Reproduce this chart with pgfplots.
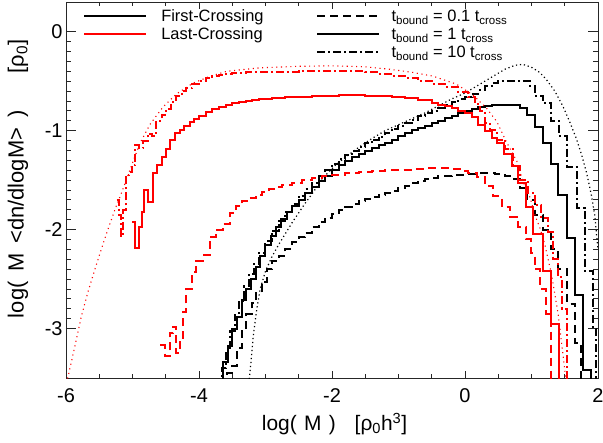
\documentclass[border=0pt]{standalone}
\usepackage{fontspec}
\setmainfont{Liberation Sans}
\usepackage{pgfplots}
\pgfplotsset{compat=1.18}
\definecolor{idlred}{RGB}{255,0,0}
\tikzset{
 dashB/.style={dash pattern=on 8bp off 5bp},
 dashdotB/.style={dash pattern=on 8bp off 3bp on 2bp off 3bp},
 dotB/.style={dash pattern=on 1.2bp off 2.8bp},
 dotR/.style={dash pattern=on 1.1bp off 3.6bp},
}
\newcommand{\sps}[1]{\hspace{#1em}}
\begin{document}
\begin{tikzpicture}
\path[use as bounding box] (-66bp,-65bp) rectangle (537bp,378bp);
\begin{axis}[
  scale only axis, width=532bp, height=376bp,
  xmin=-6, xmax=2, ymin=-3.5, ymax=0.3,
  xtick={-6,-4,-2,0,2}, xticklabels={-6,-4,-2,0,2},
  ytick={-3,-2,-1,0}, yticklabels={-3,-2,-1,0},
  minor x tick num=3, minor y tick num=9,
  tick align=inside,
  axis line style={line width=0.9bp, black!85},
  every tick/.style={black!85, line width=0.8bp},
  xtick style={/pgfplots/major tick length=7bp, /pgfplots/minor tick length=4.5bp},
  ytick style={/pgfplots/major tick length=10bp, /pgfplots/minor tick length=5bp},
  tick label style={font=\fontsize{20}{24}\selectfont},
  xticklabel shift=7bp,
  xlabel={log(\sps{0.35}M\sps{0.35})\sps{0.9}[ρ\textsubscript{0}h\textsuperscript{3}]},
  ylabel={log(\sps{0.45}M\sps{0.45}{<}dn/dlogM{>}\sps{0.45})\sps{1.7}[ρ\textsubscript{0}]},
  every axis x label/.style={at={(rel axis cs:0.368,0)}, yshift=-46bp, anchor=west, inner sep=0pt, font=\fontsize{21}{25}\selectfont},
  every axis y label/.style={at={(rel axis cs:0,0.159)}, xshift=-48bp, rotate=90, anchor=west, inner sep=0pt, font=\fontsize{22}{26}\selectfont},
  legend columns=2,
  legend cell align=left,
  legend image code/.code={\draw[#1] (0bp,0bp) -- (62bp,0bp);},
  legend style={draw=none, fill=none, at={(rel axis cs:0,1)}, anchor=north west,
    xshift=17bp, yshift=-5.5bp, inner sep=0pt, outer sep=0pt, row sep=1.2bp, column sep=0pt,
    font=\fontsize{16.5}{18}\selectfont,
    nodes={inner sep=0pt, text height=14.2bp, text depth=2.6bp},
    /tikz/column 1/.style={column sep=14bp},
    /tikz/column 2/.style={nodes={text width=155bp}},
    /tikz/column 3/.style={column sep=11bp}},
]
% legend images
\addlegendimage{black, line width=2.3bp}
\addlegendentry{First-Crossing}
\addlegendimage{black, line width=2.3bp, dashB}
\addlegendentry{t\textsubscript{bound} = 0.1 t\textsubscript{cross}}
\addlegendimage{idlred, line width=2.3bp}
\addlegendentry{Last-Crossing}
\addlegendimage{black, line width=2.3bp}
\addlegendentry{t\textsubscript{bound} = 1 t\textsubscript{cross}}
\addlegendimage{empty legend}
\addlegendentry{\mbox{}}
\addlegendimage{black, line width=2.3bp, dashdotB}
\addlegendentry{t\textsubscript{bound} = 10 t\textsubscript{cross}}

% ---------- First crossing (black) ----------
% dotted (theory)
\addplot[forget plot, black, line width=1.2bp, dotB] coordinates {
(-3.25,-3.55) (-3.22,-3.35) (-3.18,-3.05) (-3.13,-2.80) (-3.08,-2.60) (-3.00,-2.42)
(-2.90,-2.27) (-2.80,-2.15) (-2.70,-2.04) (-2.60,-1.93) (-2.50,-1.83) (-2.40,-1.73)
(-2.30,-1.64) (-2.20,-1.54) (-2.08,-1.44) (-1.95,-1.35) (-1.78,-1.26) (-1.60,-1.17)
(-1.40,-1.08) (-1.20,-1.00) (-1.00,-0.94) (-0.80,-0.88) (-0.60,-0.82) (-0.40,-0.75)
(-0.20,-0.68) (0.00,-0.62) (0.20,-0.54) (0.40,-0.46) (0.60,-0.38) (0.75,-0.34)
(0.87,-0.33) (1.00,-0.36) (1.12,-0.41) (1.22,-0.48) (1.35,-0.60) (1.47,-0.75)
(1.58,-0.92) (1.68,-1.09) (1.76,-1.26) (1.83,-1.43) (1.90,-1.65) (1.95,-1.85) (2.00,-2.2)
};
% dashed  t=0.1
\addplot[forget plot, black, line width=2bp, dashB, const plot] coordinates {
(-3.58,-3.6) (-3.58,-3.45) (-3.50,-3.38) (-3.43,-3.20) (-3.36,-3.02) (-3.29,-2.85)
(-3.21,-2.74) (-3.14,-2.64) (-3.06,-2.53) (-2.98,-2.40) (-2.90,-2.32) (-2.80,-2.27)
(-2.70,-2.20) (-2.60,-2.13) (-2.50,-2.08) (-2.40,-2.03) (-2.30,-1.97) (-2.20,-1.92)
(-2.10,-1.88) (-2.00,-1.84) (-1.90,-1.80) (-1.80,-1.77) (-1.70,-1.74) (-1.60,-1.71)
(-1.50,-1.69) (-1.40,-1.67) (-1.30,-1.65) (-1.20,-1.63) (-1.10,-1.61) (-1.00,-1.58)
(-0.90,-1.56) (-0.80,-1.53) (-0.70,-1.51) (-0.60,-1.49) (-0.50,-1.48) (-0.40,-1.46)
(-0.30,-1.46) (-0.20,-1.45) (-0.10,-1.45) (0.00,-1.44) (0.10,-1.44) (0.20,-1.43)
(0.30,-1.43) (0.45,-1.44) (0.60,-1.46) (0.72,-1.49) (0.82,-1.58) (0.93,-1.70)
(1.05,-1.85) (1.18,-2.00) (1.30,-2.20) (1.40,-2.40) (1.54,-2.75) (1.66,-3.15) (1.75,-3.6)
};
% solid t=1
\addplot[forget plot, black, line width=2bp, const plot] coordinates {
(-3.64,-3.6) (-3.64,-3.34) (-3.56,-3.18) (-3.50,-3.00) (-3.43,-2.88) (-3.36,-2.71)
(-3.30,-2.60) (-3.22,-2.50) (-3.15,-2.38) (-3.08,-2.27) (-3.00,-2.16) (-2.92,-2.06)
(-2.84,-1.97) (-2.76,-1.89) (-2.68,-1.82) (-2.60,-1.76) (-2.50,-1.70) (-2.40,-1.63)
(-2.30,-1.57) (-2.20,-1.51) (-2.10,-1.46) (-2.00,-1.40) (-1.90,-1.35) (-1.80,-1.31)
(-1.70,-1.27) (-1.60,-1.24) (-1.50,-1.21) (-1.40,-1.18) (-1.30,-1.15) (-1.20,-1.12)
(-1.10,-1.09) (-1.00,-1.05) (-0.90,-1.02) (-0.80,-0.99) (-0.70,-0.97) (-0.60,-0.95)
(-0.50,-0.92) (-0.40,-0.90) (-0.30,-0.87) (-0.20,-0.85) (-0.10,-0.82) (0.00,-0.80)
(0.10,-0.78) (0.20,-0.76) (0.30,-0.75) (0.40,-0.74) (0.82,-0.77) (0.93,-0.84)
(1.05,-0.96) (1.18,-1.12) (1.30,-1.34) (1.40,-1.65) (1.54,-2.09) (1.66,-2.66)
(1.78,-3.42) (1.89,-3.6)
};
% dash-dot t=10
\addplot[forget plot, black, line width=2bp, dashdotB, const plot] coordinates {
(-3.66,-3.6) (-3.66,-3.40) (-3.60,-3.22) (-3.53,-3.02) (-3.46,-2.86) (-3.40,-2.72)
(-3.32,-2.57) (-3.25,-2.45) (-3.18,-2.35) (-3.10,-2.24) (-3.00,-2.12) (-2.90,-2.01)
(-2.80,-1.91) (-2.70,-1.82) (-2.60,-1.74) (-2.50,-1.66) (-2.40,-1.59) (-2.30,-1.53)
(-2.20,-1.46) (-2.10,-1.40) (-2.00,-1.34) (-1.90,-1.29) (-1.80,-1.25) (-1.70,-1.21)
(-1.60,-1.17) (-1.50,-1.13) (-1.40,-1.09) (-1.30,-1.06) (-1.20,-1.02) (-1.10,-0.98)
(-1.00,-0.95) (-0.90,-0.92) (-0.80,-0.89) (-0.70,-0.85) (-0.60,-0.82) (-0.50,-0.80)
(-0.40,-0.77) (-0.30,-0.74) (-0.20,-0.71) (-0.10,-0.68) (0.00,-0.66) (0.10,-0.63)
(0.20,-0.59) (0.30,-0.55) (0.40,-0.52) (0.50,-0.50) (0.98,-0.55) (1.05,-0.65)
(1.18,-0.72) (1.30,-0.90) (1.42,-1.05) (1.54,-1.37) (1.68,-1.78) (1.80,-2.42)
(1.92,-3.0) (1.97,-3.6)
};

% ---------- Last crossing (red) ----------
% dotted (theory)
\addplot[forget plot, idlred, line width=1.1bp, dotR] coordinates {
(-6.00,-3.55) (-5.97,-3.49) (-5.87,-3.19) (-5.77,-2.88) (-5.67,-2.63) (-5.56,-2.39)
(-5.46,-2.18) (-5.36,-1.98) (-5.26,-1.79) (-5.16,-1.62) (-5.04,-1.40) (-4.89,-1.13)
(-4.74,-0.94) (-4.54,-0.76) (-4.34,-0.63) (-4.09,-0.52) (-3.83,-0.45) (-3.58,-0.40)
(-3.08,-0.365) (-2.50,-0.35) (-2.00,-0.345) (-1.50,-0.355) (-1.13,-0.38) (-0.80,-0.41)
(-0.48,-0.45) (-0.13,-0.53) (0.12,-0.64) (0.32,-0.77) (0.48,-0.91) (0.62,-1.11)
(0.78,-1.31) (0.87,-1.51) (0.98,-1.68) (1.05,-1.85) (1.13,-1.99) (1.20,-2.15)
(1.30,-2.45) (1.40,-2.85) (1.48,-3.3) (1.53,-3.6)
};
% dashed t=0.1
\addplot[forget plot, idlred, line width=2bp, dashB, const plot] coordinates {
(-4.58,-3.17) (-4.51,-3.28) (-4.44,-3.05) (-4.39,-2.98) (-4.34,-3.25) (-4.29,-3.10)
(-4.24,-2.83) (-4.19,-2.60) (-4.11,-2.43) (-4.04,-2.32) (-3.94,-2.26) (-3.84,-2.07)
(-3.74,-2.00) (-3.64,-1.94) (-3.54,-1.83) (-3.45,-1.76) (-3.35,-1.71) (-3.25,-1.68)
(-3.15,-1.65) (-3.05,-1.62) (-2.95,-1.59) (-2.85,-1.57) (-2.75,-1.55) (-2.60,-1.53)
(-2.45,-1.50) (-2.30,-1.48) (-2.15,-1.46) (-2.00,-1.45) (-1.80,-1.43) (-1.60,-1.42)
(-1.40,-1.41) (-1.20,-1.40) (-1.00,-1.395) (-0.80,-1.39) (-0.60,-1.38) (-0.40,-1.38)
(-0.20,-1.39) (-0.05,-1.41) (0.05,-1.43) (0.18,-1.47) (0.30,-1.56) (0.42,-1.66)
(0.55,-1.77) (0.68,-1.87) (0.80,-1.97) (0.92,-2.10) (1.00,-2.24) (1.05,-2.40)
(1.13,-2.60) (1.22,-2.85) (1.29,-3.6)
};
% solid t=1
\addplot[forget plot, idlred, line width=2bp, const plot] coordinates {
(-5.00,-1.92) (-4.96,-2.19) (-4.90,-1.97) (-4.86,-1.82) (-4.82,-1.60) (-4.76,-1.72)
(-4.69,-1.43) (-4.63,-1.35) (-4.56,-1.27) (-4.49,-1.19) (-4.43,-1.09) (-4.36,-1.02)
(-4.29,-0.99) (-4.22,-0.95) (-4.14,-0.91) (-4.07,-0.88) (-4.00,-0.85) (-3.90,-0.81)
(-3.80,-0.78) (-3.70,-0.76) (-3.60,-0.74) (-3.50,-0.72) (-3.40,-0.71) (-3.30,-0.70)
(-3.20,-0.69) (-3.10,-0.68) (-3.00,-0.68) (-2.90,-0.67) (-2.70,-0.66) (-2.50,-0.66)
(-2.30,-0.65) (-2.10,-0.65) (-1.90,-0.64) (-1.70,-0.64) (-1.50,-0.65) (-1.30,-0.65)
(-1.10,-0.66) (-0.90,-0.67) (-0.70,-0.69) (-0.50,-0.72) (-0.40,-0.74) (-0.30,-0.75)
(-0.20,-0.77) (-0.10,-0.80) (0.00,-0.82) (0.10,-0.86) (0.20,-0.94) (0.30,-1.00)
(0.40,-1.07) (0.48,-1.12) (0.58,-1.24) (0.70,-1.36) (0.80,-1.53) (0.92,-1.77)
(1.03,-2.04) (1.17,-2.42) (1.29,-2.95) (1.42,-3.6)
};
% dash-dot t=10
\addplot[forget plot, idlred, line width=2bp, dashdotB, const plot] coordinates {
(-5.24,-1.70) (-5.21,-1.85) (-5.18,-2.06) (-5.14,-1.80) (-5.10,-1.45) (-5.05,-1.42)
(-5.01,-1.35) (-4.96,-1.15) (-4.90,-1.18) (-4.84,-1.10) (-4.77,-1.03) (-4.70,-1.05)
(-4.64,-0.90) (-4.56,-0.84) (-4.49,-0.78) (-4.42,-0.71) (-4.34,-0.65) (-4.26,-0.60)
(-4.19,-0.57) (-4.10,-0.53) (-4.00,-0.50) (-3.90,-0.47) (-3.80,-0.45) (-3.70,-0.44)
(-3.60,-0.43) (-3.50,-0.42) (-3.30,-0.41) (-3.00,-0.41) (-2.50,-0.40) (-2.00,-0.40)
(-1.70,-0.40) (-1.50,-0.41) (-1.30,-0.43) (-1.10,-0.45) (-0.90,-0.47) (-0.70,-0.50)
(-0.50,-0.53) (-0.30,-0.56) (-0.10,-0.61) (0.05,-0.66) (0.15,-0.73) (0.22,-0.80)
(0.30,-0.92) (0.38,-0.99) (0.48,-1.09) (0.60,-1.19) (0.72,-1.36) (0.82,-1.50)
(0.95,-1.63) (1.05,-1.75) (1.15,-1.88) (1.25,-2.02) (1.33,-2.30) (1.40,-2.48)
(1.46,-2.80) (1.53,-3.6)
};
\end{axis}
\end{tikzpicture}
\end{document}
